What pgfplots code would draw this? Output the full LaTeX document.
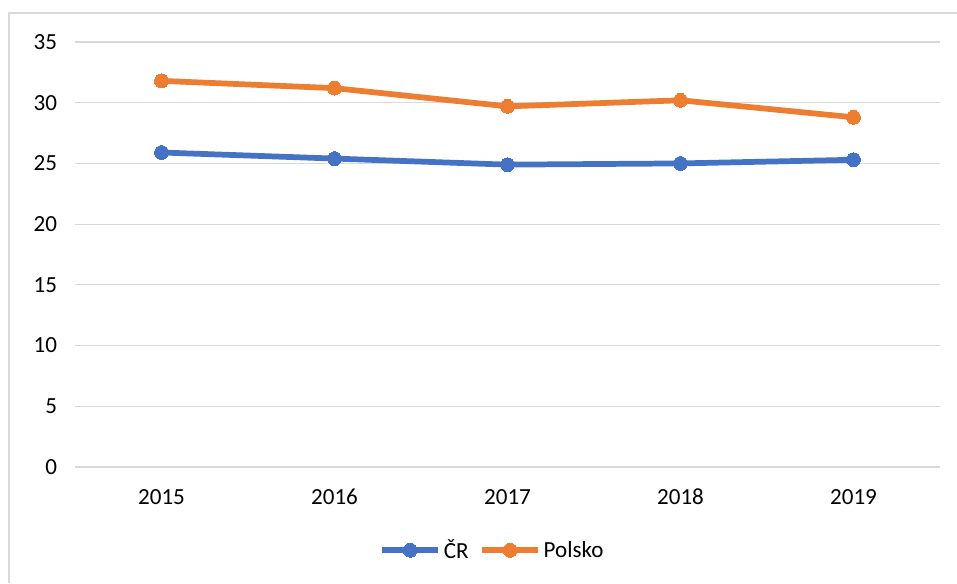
\documentclass[border=0pt]{standalone}
\usepackage{pgfplots}
\pgfplotsset{compat=1.18}
\usepackage{fontspec}
\setmainfont{Carlito}
\definecolor{crblue}{HTML}{4472C4}
\definecolor{plorange}{HTML}{ED7D31}
\definecolor{gridgrey}{HTML}{D9D9D9}
% 1 px of the reference = 0.75pt
\begin{document}
\begin{tikzpicture}
\useasboundingbox (0pt,0pt) rectangle (717.75pt,437.25pt);
\draw[gridgrey,line width=0.9pt] (6.75pt,0pt) -- (6.75pt,427.5pt) -- (717.75pt,427.5pt);
\begin{axis}[
    at={(56.25pt,87pt)}, anchor=south west,
    scale only axis,
    width=648.75pt, height=318.75pt,
    xmin=-0.5, xmax=4.5,
    ymin=0, ymax=35,
    ytick={0,5,...,35},
    xtick={0,1,2,3,4},
    xticklabels={2015,2016,2017,2018,2019},
    axis line style={draw=none},
    major tick length=0pt,
    ymajorgrids,
    grid style={gridgrey,line width=0.9pt},
    tick label style={font=\fontsize{17.3}{20}\selectfont},
    /pgf/number format/assume math mode=true,
    yticklabel style={xshift=-10pt},
    xticklabel style={yshift=-13pt},
    legend style={
        at={(0.483,-0.196)}, anchor=center,
        draw=none, fill=none,
        legend columns=2,
        font=\fontsize{17.3}{20}\selectfont,
        /tikz/every even column/.append style={column sep=6pt},
    },
    legend image code/.code={
        \draw[mark repeat=2,mark phase=2] plot coordinates {(0pt,0pt) (21pt,0pt) (42pt,0pt)};
    },
]
\addplot[crblue, line width=4.3pt, mark=*, mark size=5.2pt, mark options={line width=0pt}] coordinates {
    (0,25.9) (1,25.4) (2,24.9) (3,25.0) (4,25.3)
};
\addlegendentry{ČR}
\addplot[plorange, line width=4.3pt, mark=*, mark size=5.2pt, mark options={line width=0pt}] coordinates {
    (0,31.8) (1,31.2) (2,29.7) (3,30.2) (4,28.8)
};
\addlegendentry{Polsko}
\end{axis}
\end{tikzpicture}
\end{document}
